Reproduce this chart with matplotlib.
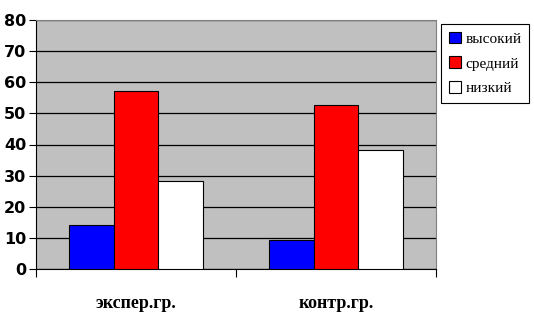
import numpy as np
import matplotlib as mpl
mpl.use('Agg')
from matplotlib import pyplot as plt

# data
groups = ['экспер.гр.', 'контр.гр.']
levels = ['высокий', 'средний', 'низкий']
vysokiy = [14, 9.3]
sredniy = [57.2, 52.6]
nizkiy = [28.2, 38.1]
level_colors = ['#0000ff', '#ff0000', '#ffffff']

fig = plt.figure(figsize=(5.34, 3.16), dpi=100)
ax = fig.add_axes([36/534, 47/316, 400/534, 249/316])
ax.set_facecolor('#c0c0c0')

x = np.arange(len(groups)) + 0.5
w = 1 / 4.5
series = [vysokiy, sredniy, nizkiy]
for i, vals in enumerate(series):
    ax.bar(x + (i - 1) * w, vals, width=w, color=level_colors[i],
           edgecolor='black', linewidth=0.8, label=levels[i], zorder=3)

ax.set_xlim(0, len(groups))
ax.set_ylim(0, 80)
ax.set_yticks(range(0, 81, 10))
ax.yaxis.grid(True, color='black', linewidth=0.9, zorder=1)
ax.set_axisbelow(True)

ax.set_xticks(range(len(groups) + 1))
ax.set_xticklabels([])
ax.set_xticks(x, minor=True)
ax.set_xticklabels(groups, minor=True, family='Liberation Serif',
                   fontweight='bold', fontsize=13)
ax.tick_params(axis='x', which='minor', length=0, pad=19)
ax.tick_params(axis='x', which='major', length=6, width=0.8, direction='out')
ax.tick_params(axis='y', length=5, width=0.8, direction='out', pad=2)
for lbl in ax.get_yticklabels():
    lbl.set_fontweight('bold')
    lbl.set_fontsize(11.5)

ax.spines['top'].set_color('#808080')
ax.spines['right'].set_color('#808080')
ax.spines['left'].set_color('black')
ax.spines['bottom'].set_color('black')

leg = fig.legend(loc='upper left', bbox_to_anchor=(441/534, 1 - 24/316),
                 prop={'family': 'Liberation Serif', 'size': 11},
                 fancybox=False, edgecolor='black', framealpha=1,
                 handlelength=0.8, handleheight=0.8, handletextpad=0.3,
                 borderpad=0.5, labelspacing=0.7, borderaxespad=0)
leg.get_frame().set_linewidth(0.8)

plt.savefig('out.png', dpi=100)
plt.close()
